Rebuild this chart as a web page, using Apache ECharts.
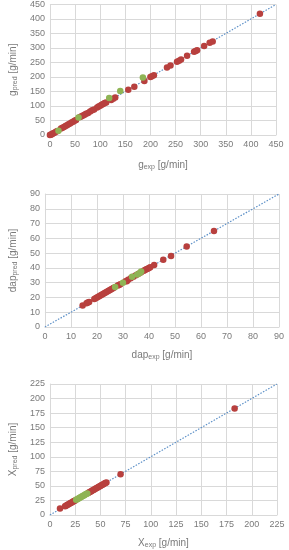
<!DOCTYPE html>
<html><head><meta charset="utf-8">
<script src="https://cdn.jsdelivr.net/npm/echarts@6/dist/echarts.min.js"></script>
<style>html,body{margin:0;padding:0;background:#fff}#c{width:289px;height:550px}</style>
</head><body><div id="c"></div>
<script>
// Chart 1: g
const gRedX = [0,1,3,5,7,9,12,15,22,25,28,31,34,37,40,43,46,49,52,60,63,66,69,72,76,80,84,88,94,97,100,103,106,109,112,122,126,130,156,168,188,200,203,207,233,240,253,257,261,273,287,290,293,307,318,324,418];
const gRedY = [0,1,2,4,6,8,11,14,22,25,28,31,34,37,40,43,46,49,52,62,65,67,70,73,76,81,85,88,95,98,101,104,107,110,112,121,125,129,156,166,186,200,203,206,233,240,253,256,260,273,287,290,292,307,318,322,418];
const gGreenX = [17,57,118,140,185];
const gGreenY = [15,60,128,152,198];
// Chart 2: dap
const dRedX = [14.5,16,16.5,17,19,19.5,20,20.5,21,21.5,22,22.5,23,23.5,24,24.5,25,25.5,26,26.5,28,28.5,29,31,31.5,32,33,34,35,36,37,38,38.5,39,39.5,40,40.5,42,45.5,48.5,54.5,65];
const dRedY = [14.5,16,16.5,17,19,19.5,20,20.5,21,21.5,22,22.5,23,23.5,24,24.5,25,25.5,26,26.5,28,28.5,29,31,31,32,33,34,35,36,37,38,38.5,39,39.5,40,40.5,42,45.5,48,54.5,65];
const dGreenX = [27,30,33.5,35.5,36.5,37];
const dGreenY = [27,30,34,35.5,36.5,37.5];
// Chart 3: X
const xRedX = [10,15,16,17,18,19,20,21,22,23,24,25,38,39,40,41,42,43,44,45,46,47,48,49,50,51,52,53,54,55,56,70,183];
const xRedY = [11,15,16,17,18,19,20,21,22,23,24,25,38,39,40,41,42,43,44,45,46,47,48,49,50,51,52,53,54,55,56,70,183];
const xGreenX = [26,27,28,29,30,31,32,33,34,35,36,37];
const xGreenY = [26,27,28,29,30,31,32,33,34,35,36,37];
// Axis ranges
const maxes = [450, 90, 225];
const intervals = [50, 10, 25];
const names = [['g','pred','exp'],['dap','pred','exp'],['X','pred','exp']];

const zip = (a,b)=>a.map((v,i)=>[v,b[i]]);
const RED = '#b8403e', GREEN = '#8fb455', LINE = '#5b8fc7';
const TXT = '#7a7a7a';
const grids = [
  {left:35, right:13, top:4, height:131},
  {left:29, right:10, top:194, height:133},
  {left:33, right:12, top:384, height:134}
];
const yGaps=[25,19,22], xGaps=[24,22,22];
const rich = {a:{fontSize:10,color:TXT,fontFamily:'Liberation Sans'}, s:{fontSize:7,color:TXT,padding:[5,0,0,0],fontFamily:'Liberation Sans'}};
const xAxis=[], yAxis=[], series=[];
const reds=[zip(gRedX,gRedY),zip(dRedX,dRedY),zip(xRedX,xRedY)];
const greens=[zip(gGreenX,gGreenY),zip(dGreenX,dGreenY),zip(xGreenX,xGreenY)];
for(let i=0;i<3;i++){
  const common = {type:'value', gridIndex:i, min:0, max:maxes[i], interval:intervals[i],
    axisLine:{show:true,lineStyle:{color:'#d9d9d9'}}, axisTick:{show:false},
    splitLine:{show:true,lineStyle:{color:'#d9d9d9',width:1}},
    axisLabel:{color:TXT,fontSize:9,fontFamily:'Liberation Sans',margin:5},
    nameLocation:'middle', nameTextStyle:{rich:rich}};
  xAxis.push(Object.assign({}, common, {name:'{a|'+names[i][0]+'}{s|'+names[i][2]+'}{a| [g/min]}', nameGap:xGaps[i]}));
  yAxis.push(Object.assign({}, common, {name:'{a|'+names[i][0]+'}{s|'+names[i][1]+'}{a| [g/min]}', nameGap:yGaps[i], nameRotate:90}));
  series.push({type:'line', xAxisIndex:i, yAxisIndex:i, data:[[0,0],[maxes[i],maxes[i]]], symbol:'none', lineStyle:{color:LINE,type:[1.5,1.5],width:1.2}, silent:true, z:1});
  series.push({type:'scatter', xAxisIndex:i, yAxisIndex:i, data:reds[i], symbolSize:6.5, itemStyle:{color:RED,opacity:1}, z:3});
  series.push({type:'scatter', xAxisIndex:i, yAxisIndex:i, data:greens[i], symbolSize:6.5, itemStyle:{color:GREEN,opacity:1}, z:4});
}
const chart = echarts.init(document.getElementById('c'), null, {renderer:'canvas'});
chart.setOption({animation:false, grid:grids, xAxis:xAxis, yAxis:yAxis, series:series});
</script></body></html>
